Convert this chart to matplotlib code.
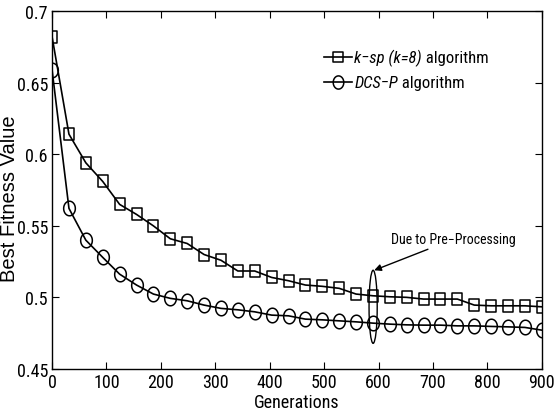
import numpy as np
import matplotlib
matplotlib.use("Agg")
import matplotlib.pyplot as plt
from matplotlib.patches import Ellipse
from matplotlib.lines import Line2D
from matplotlib.path import Path
from matplotlib import font_manager

names = {f.name for f in font_manager.fontManager.ttflist}
narrow = 'Liberation Sans'
for cand in ['Liberation Sans Narrow', 'Arial Narrow', 'Nimbus Sans Narrow', 'Roboto Condensed',
             'Archivo Narrow', 'PT Sans Narrow', 'Open Sans Condensed']:
    if cand in names:
        narrow = cand
        break
plt.rcParams['font.family'] = [narrow, 'DejaVu Sans']

generations = np.linspace(0, 900, 30)
ksp = [0.682, 0.614, 0.594, 0.581, 0.565, 0.558, 0.550, 0.541, 0.5377, 0.530,
       0.526, 0.5185, 0.5185, 0.514, 0.5117, 0.5087, 0.5078, 0.5064, 0.5024, 0.5012,
       0.5005, 0.5001, 0.4989, 0.4989, 0.4989, 0.4947, 0.4942, 0.4942, 0.4942, 0.4935]
dcsp = [0.6588, 0.5622, 0.540, 0.528, 0.5163, 0.5087, 0.5024, 0.4994, 0.4977, 0.4947,
        0.4924, 0.4914, 0.490, 0.4877, 0.4872, 0.4849, 0.4844, 0.4837, 0.4830, 0.4821,
        0.4814, 0.4809, 0.4807, 0.4807, 0.4802, 0.4802, 0.4798, 0.4795, 0.4791, 0.4772]
xticks = [0, 100, 200, 300, 400, 500, 600, 700, 800, 900]
yticks = [0.45, 0.5, 0.55, 0.6, 0.65, 0.7]
ytick_labels = ["0.45", "0.5", "0.55", "0.6", "0.65", "0.7"]

# slightly tall ellipse marker (reference is horizontally squeezed)
t = np.linspace(0, 2 * np.pi, 60)
ell_marker = Path(np.column_stack([0.8 * np.cos(t), np.sin(t)]), closed=True)
sq_marker = Path([(-0.9, -1), (0.9, -1), (0.9, 1), (-0.9, 1), (-0.9, -1)], closed=True)

fig = plt.figure(figsize=(5.54, 4.14), dpi=100)
ax = fig.add_axes([0.094, 0.106, 0.884, 0.865])

mk1 = dict(color='black', lw=1.2, marker=sq_marker, markersize=8.5,
           markerfacecolor='none', markeredgewidth=1.1)
mk2 = dict(color='black', lw=1.2, marker=ell_marker, markersize=10.5,
           markerfacecolor='none', markeredgewidth=1.1)
ax.plot(generations, ksp, **mk1)
ax.plot(generations, dcsp, **mk2)

ax.set_xlim(0, 900)
ax.set_ylim(0.45, 0.7)
ax.set_xticks(xticks)
ax.set_yticks(yticks)
ax.set_yticklabels(ytick_labels)
ax.tick_params(direction='in', top=True, right=True, labelsize=13, length=5)
ax.tick_params(axis='y', pad=3)
ax.tick_params(axis='x', pad=3)
for s in ax.spines.values():
    s.set_linewidth(1.0)

ax.set_xlabel('Generations', fontsize=13, labelpad=1)
ax.set_ylabel('Best Fitness Value', fontsize=14.5, family=['Liberation Sans', 'DejaVu Sans'])
ax.yaxis.set_label_coords(-0.068, 0.48)

ell = Ellipse((590, 0.4935), width=15, height=0.051, fill=False, lw=1.0, color='black')
ax.add_patch(ell)
ax.annotate('Due to Pre\u2212Processing', xy=(592, 0.519), xytext=(622, 0.5405),
            fontsize=10, ha='left', va='center',
            arrowprops=dict(arrowstyle='-|>', color='black', lw=1.0,
                            shrinkA=0, shrinkB=0, mutation_scale=10),
            annotation_clip=False)

h1 = Line2D([], [], color='black', lw=1.2, marker=sq_marker, markersize=7.5,
            markerfacecolor='none', markeredgewidth=1.1)
h2 = Line2D([], [], color='black', lw=1.2, marker=ell_marker, markersize=9.5,
            markerfacecolor='none', markeredgewidth=1.1)
leg = ax.legend([h1, h2], [' ', ' '],
                loc='upper left', bbox_to_anchor=(0.556, 0.89), frameon=False,
                fontsize=12, handlelength=1.65, handletextpad=0.15, labelspacing=0.6,
                borderaxespad=0, borderpad=0)
texts = leg.get_texts()
fig.canvas.draw()
renderer = fig.canvas.get_renderer()

def mixed(parts, t):
    bb = t.get_window_extent(renderer)
    x, y = bb.x0, (bb.y0 + bb.y1) / 2
    for txt, style in parts:
        tt = fig.text(x, y, txt, transform=None, fontsize=12, style=style,
                      va='center', ha='left')
        x = tt.get_window_extent(renderer=renderer).x1

mixed([('k\u2212sp (k=8)', 'italic'), (' algorithm', 'normal')], texts[0])
mixed([('DCS\u2212P', 'italic'), (' algorithm', 'normal')], texts[1])

fig.savefig('out.png', dpi=100)
